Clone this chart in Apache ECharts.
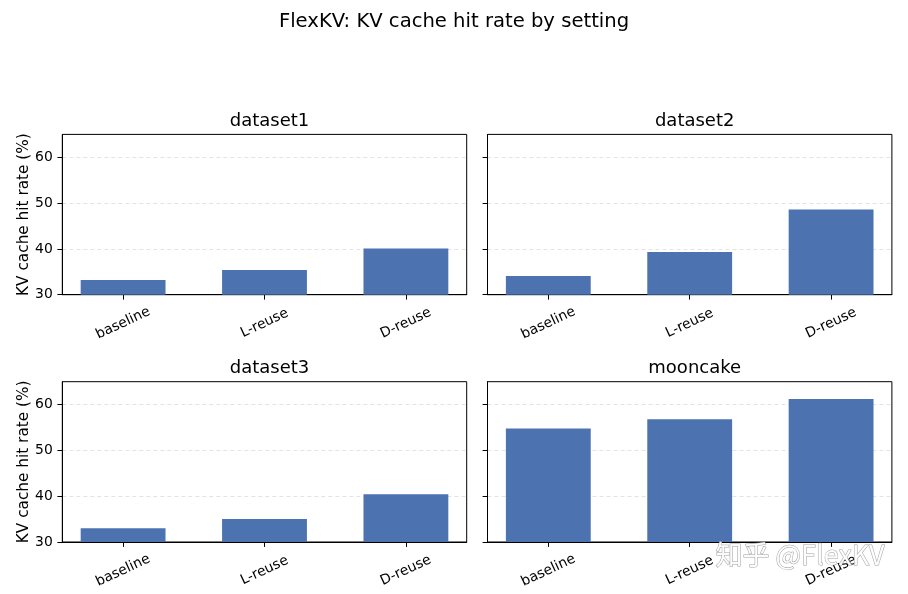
<!DOCTYPE html>
<html>
<head>
<meta charset="utf-8">
<script src="https://cdn.jsdelivr.net/npm/echarts@6/dist/echarts.min.js"></script>
<style>
html,body{margin:0;padding:0;background:#fff;}
#chart{width:908px;height:594px;}
</style>
</head>
<body>
<div id="chart"></div>
<script>
const mainTitle = 'FlexKV: KV cache hit rate by setting';
const categories = ['baseline', 'L-reuse', 'D-reuse'];
const panelTitles = ['dataset1', 'dataset2', 'dataset3', 'mooncake'];
const dataset1 = [33.2, 35.4, 40.1];
const dataset2 = [34.1, 39.3, 48.6];
const dataset3 = [33.0, 35.0, 40.4];
const mooncake = [54.8, 56.8, 61.2];
const yTicks = [30, 40, 50, 60];
const yName = 'KV cache hit rate (%)';
const watermark = '知乎 @FlexKV';

const panelValues = [dataset1, dataset2, dataset3, mooncake];
const FONT = 'DejaVu Sans';
const gridW = 404.4, gridH = 160.3;
const lefts = [62.3, 487.5];
const tops = [134.4, 381.7];
const xMin = -0.43, xMax = 2.43;
const barPx = 0.6 * gridW / (xMax - xMin);

const grids = [], xAxes = [], yAxes = [], series = [], titles = [];
titles.push({
  text: mainTitle, left: 'center', top: 7,
  textStyle: {fontFamily: FONT, fontSize: 19.6, fontWeight: 'normal', color: '#000'}
});
panelValues.forEach((vals, i) => {
  const r = Math.floor(i / 2), c = i % 2;
  grids.push({left: lefts[c], top: tops[r], width: gridW, height: gridH,
    show: true, borderColor: '#000', borderWidth: 1, backgroundColor: 'transparent'});
  titles.push({
    text: panelTitles[i], left: lefts[c] + gridW / 2, textAlign: 'center',
    top: tops[r] - 27.4,
    textStyle: {fontFamily: FONT, fontSize: 18, fontWeight: 'normal', color: '#000'}
  });
  xAxes.push({
    type: 'value', gridIndex: i, min: xMin, max: xMax,
    axisLine: {show: true, onZero: false, lineStyle: {color: '#000', width: 1}},
    axisTick: {show: true, length: 4.9, customValues: [0, 1, 2], lineStyle: {color: '#000', width: 1}},
    axisLabel: {
      show: true, customValues: [0, 1, 2], rotate: 25, align: 'center', verticalAlign: 'middle',
      margin: 28.5, fontFamily: FONT, fontSize: 13.9, color: '#000',
      formatter: v => categories[Math.round(v)]
    },
    splitLine: {show: false}
  });
  yAxes.push({
    type: 'value', gridIndex: i, min: 30, max: 65,
    name: c === 0 ? yName : '', nameLocation: 'middle', nameGap: 27,
    nameTextStyle: {fontFamily: FONT, fontSize: 15.3, color: '#000'},
    axisLine: {show: true, onZero: false, lineStyle: {color: '#000', width: 1}},
    axisTick: {show: true, length: 4.9, customValues: yTicks, lineStyle: {color: '#000', width: 1}},
    axisLabel: {show: c === 0, customValues: yTicks, margin: 9.5, fontFamily: FONT, fontSize: 13.9, color: '#000'},
    splitLine: {show: true, lineStyle: {color: '#dcdcdc', type: [4, 3], width: 0.8}}
  });
  series.push({
    type: 'bar', xAxisIndex: i, yAxisIndex: i, barWidth: barPx, clip: true,
    itemStyle: {color: '#4c72b0'},
    data: vals.map((v, k) => [k, v])
  });
});

const chart = echarts.init(document.getElementById('chart'), null, {renderer: 'canvas'});
chart.setOption({
  backgroundColor: '#fff',
  animation: false,
  title: titles,
  grid: grids,
  xAxis: xAxes,
  yAxis: yAxes,
  series: series,
  graphic: [{
    type: 'text', left: 715, top: 541, z: 100,
    style: {
      text: watermark, font: '27px "Noto Sans CJK SC"',
      fill: 'rgba(255,255,255,0.92)', stroke: 'rgba(130,130,130,0.75)', lineWidth: 1
    }
  }]
});
</script>
</body>
</html>
